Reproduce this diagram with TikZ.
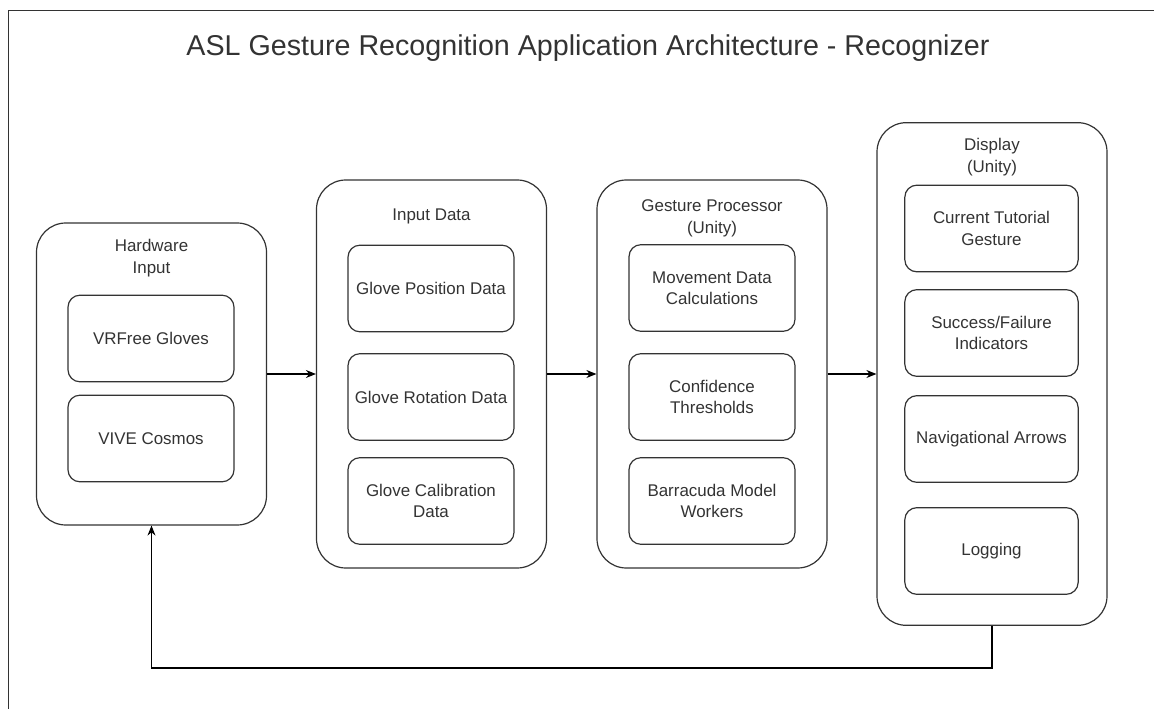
\documentclass[tikz,border=0pt]{standalone}
\usepackage{fontspec}
\setmainfont{Liberation Sans}
\usetikzlibrary{arrows.meta}
\definecolor{ink}{HTML}{333333}
\begin{document}
\begin{tikzpicture}[x=0.75pt,y=-0.75pt,
  group/.style={draw=ink, line width=0.9pt, rounded corners=22pt, minimum width=172.5pt, inner sep=0pt},
  item/.style={draw=ink, line width=0.9pt, rounded corners=9pt, minimum width=124.5pt, minimum height=65pt,
    inner sep=0pt, align=center, text=ink, font=\fontsize{12.7}{16}\selectfont},
  head/.style={align=center, text=ink, font=\fontsize{12.7}{16.5}\selectfont, inner sep=0pt},
  flow/.style={draw=black, line width=0.9pt, -{Stealth[length=7.5pt,width=6pt]}}]
\useasboundingbox (0,0) rectangle (1154,709);

% page frame
\coordinate (fbl) at (8.7,712);
\coordinate (ftl) at (8.7,10.7);
\coordinate (ftr) at (1157,10.7);
\draw[ink, line width=0.9pt] (fbl) -- (ftl) -- (ftr);

% title
\node[text=ink, font=\fontsize{21.5}{25}\selectfont, inner sep=0pt] (title) at (588,48)
  {ASL Gesture Recognition Application Architecture - Recognizer};

% groups
\node[group, minimum height=226.5pt] (hw) at (151.5,374) {};
\node[group, minimum height=291pt] (in) at (431.5,374) {};
\node[group, minimum height=291pt] (gp) at (712,374) {};
\node[group, minimum height=377pt] (dp) at (992,374) {};

% group headings
\node[head] (hwh) at (151.5,258) {Hardware\\Input};
\node[head] (inh) at (431.5,216) {Input Data};
\node[head] (gph) at (712,218) {Gesture Processor\\(Unity)};
\node[head] (dph) at (992,157) {Display\\(Unity)};

% hardware items
\node[item] (hw1) at (151,338.5) {VRFree Gloves};
\node[item] (hw2) at (151,438.5) {VIVE Cosmos};

% input data items
\node[item] (in1) at (431,288.5) {Glove Position Data};
\node[item] (in2) at (431,397) {Glove Rotation Data};
\node[item] (in3) at (431,501) {Glove Calibration\\Data};

% gesture processor items
\node[item] (gp1) at (712,288) {Movement Data\\Calculations};
\node[item] (gp2) at (712,397) {Confidence\\Thresholds};
\node[item] (gp3) at (712,501) {Barracuda Model\\Workers};

% display items
\node[item, minimum width=130pt] (dp1) at (991.5,228.5) {Current Tutorial\\Gesture};
\node[item, minimum width=130pt] (dp2) at (991.5,333) {Success/Failure\\Indicators};
\node[item, minimum width=130pt] (dp3) at (991.5,439) {Navigational Arrows};
\node[item, minimum width=130pt] (dp4) at (991.5,551) {Logging};

% data flow
\draw[flow] (hw.east) -- (in.west);
\draw[flow] (in.east) -- (gp.west);
\draw[flow] (gp.east) -- (dp.west);

% feedback loop
\coordinate (back) at (992,668);
\draw[flow] (dp.south) -- (back) -| (hw.south);
\end{tikzpicture}
\end{document}
